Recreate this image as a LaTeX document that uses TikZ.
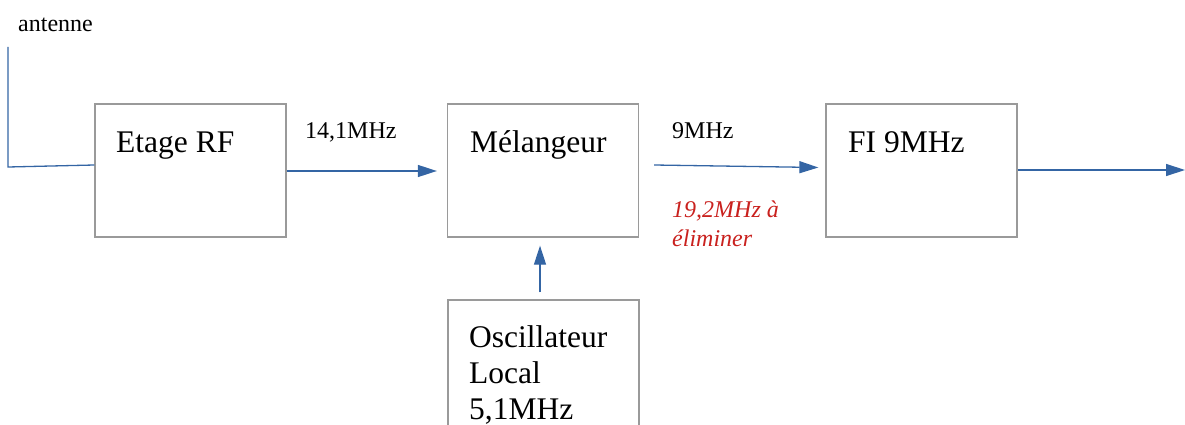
\documentclass[tikz,border=0pt]{standalone}
\usepackage{fontspec}
\setmainfont{Liberation Serif}
\usetikzlibrary{arrows.meta}
\definecolor{boxgray}{HTML}{9A9A9A}
\definecolor{sigblue}{HTML}{3465A4}
\definecolor{notered}{HTML}{C9211E}
\tikzset{
  block/.style={draw=boxgray, line width=1.3pt, rectangle,
    minimum width=191pt, minimum height=133pt, inner sep=0pt},
  blocktext/.style={anchor=base west, inner sep=0pt,
    font=\fontsize{31.5}{36}\selectfont, align=left},
  label24/.style={anchor=base west, inner sep=0pt,
    font=\fontsize{24}{29}\selectfont, align=left},
  sig/.style={draw=sigblue, line width=1.3pt},
  sigarrow/.style={sig, -{Triangle[length=19pt, width=12pt]}}
}
\begin{document}
\begin{tikzpicture}[x=1pt, y=-1pt]
  \useasboundingbox (0,0) rectangle (1185,425);
  \clip (0,0) rectangle (1185,425);

  % blocks
  \node[block] (rf)  at (190.5,170.5) {};
  \node[block] (mix) at (543,170.5) {};
  \node[block] (fi)  at (921.5,170.5) {};
  \node[block] (osc) at (543.5,366.5) {};

  % block captions (base anchor = baseline of the last line)
  \node[blocktext] (rf-txt)  at (116,152) {Etage RF};
  \node[blocktext] (mix-txt) at (470,152) {Mélangeur};
  \node[blocktext] (fi-txt)  at (848,152) {FI 9MHz};
  \node[blocktext] (osc-txt) at (469,419) {Oscillateur\\Local\\5,1MHz};

  % signal labels
  \node[label24] (ant-txt) at (18,32) {antenne};
  \node[label24] (f1-txt)  at (305,139) {14,1MHz};
  \node[label24] (f2-txt)  at (672,139) {9MHz};
  \node[label24, text=notered, font=\fontsize{24}{29}\selectfont\itshape]
    (img-txt) at (672,246) {19,2MHz à\\éliminer};

  % antenna lead
  \coordinate (ant-top) at (8,47);
  \coordinate (ant-bend) at (8,167);
  \draw[sig] (ant-top) -- (ant-bend) -- ([yshift=5.5pt]rf.west);

  % signal chain
  \draw[sigarrow] ([yshift=-0.5pt]rf.east) -- ([xshift=-10pt, yshift=-0.5pt]mix.west);
  \draw[sigarrow] ([xshift=15pt, yshift=5.5pt]mix.east) -- ([xshift=-7pt, yshift=3pt]fi.west);
  \coordinate (out) at (1185,170);
  \draw[sigarrow] ([yshift=0.5pt]fi.east) -- (out);
  \draw[sigarrow] ([xshift=-3.5pt, yshift=7pt]osc.north) -- ([xshift=-3pt, yshift=-8pt]mix.south);
\end{tikzpicture}
\end{document}
